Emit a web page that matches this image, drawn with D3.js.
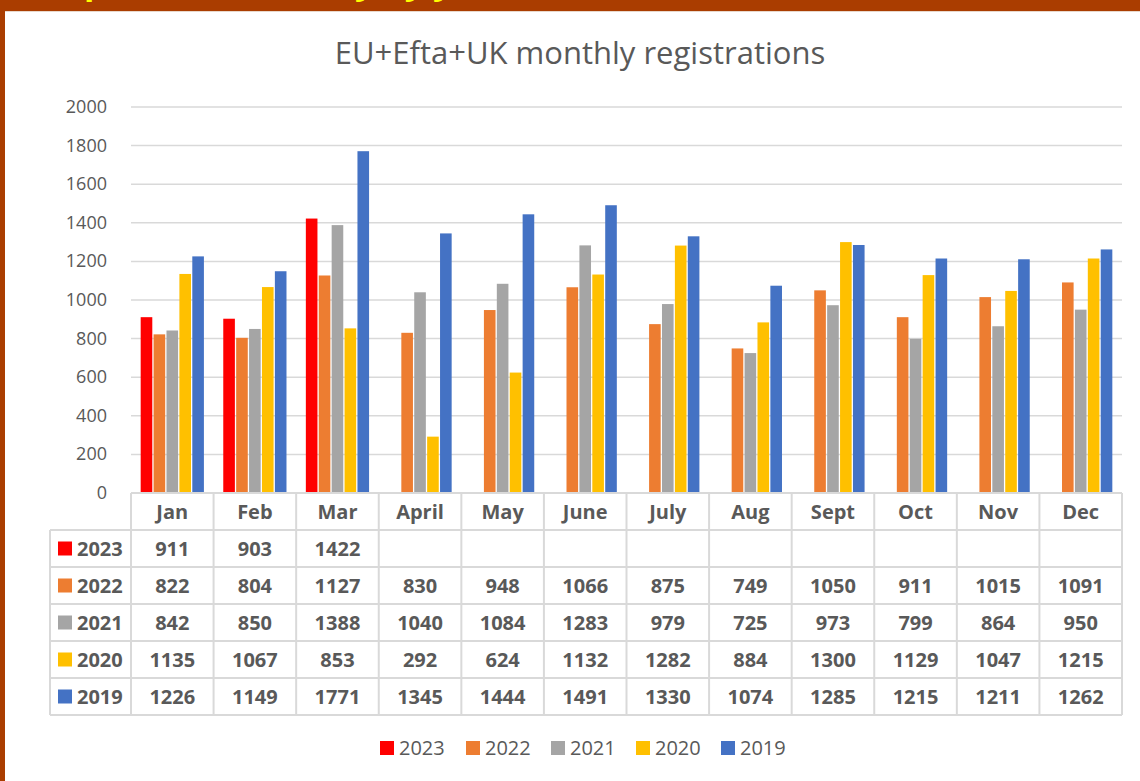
<!DOCTYPE html>
<html>
<head>
<meta charset="utf-8">
<script src="https://cdn.jsdelivr.net/npm/d3@7"></script>
<style>
  body { margin: 0; background: #aa3d00; overflow: hidden; }
  text { font-family: "Open Sans", "Noto Sans", sans-serif; fill: #595959; }
</style>
</head>
<body>
<script>
// chart data
const months = ['Jan', 'Feb', 'Mar', 'April', 'May', 'June', 'July', 'Aug', 'Sept', 'Oct', 'Nov', 'Dec'];
const years = ['2023', '2022', '2021', '2020', '2019'];
const colors = ['#ff0000', '#ed7d31', '#a5a5a5', '#ffc000', '#4472c4'];
const v2023 = [911, 903, 1422, null, null, null, null, null, null, null, null, null];
const v2022 = [822, 804, 1127, 830, 948, 1066, 875, 749, 1050, 911, 1015, 1091];
const v2021 = [842, 850, 1388, 1040, 1084, 1283, 979, 725, 973, 799, 864, 950];
const v2020 = [1135, 1067, 853, 292, 624, 1132, 1282, 884, 1300, 1129, 1047, 1215];
const v2019 = [1226, 1149, 1771, 1345, 1444, 1491, 1330, 1074, 1285, 1215, 1211, 1262];
const yTicks = [0, 200, 400, 600, 800, 1000, 1200, 1400, 1600, 1800, 2000];

const series = [v2023, v2022, v2021, v2020, v2019];

var width = 1140, height = 781;

var svg = d3.select('body').append('svg')
  .attr('width', width)
  .attr('height', height);

// heading cut off by the top edge (only descenders show)
svg.append('text')
  .attr('x', 8).attr('y', -6)
  .style('font-size', '34px').style('font-weight', 'bold')
  .style('fill', '#ffff00')
  .text('Comparison: monthly by year');

// brown frame and white panel
svg.append('rect').attr('x', 5).attr('y', 11).attr('width', width - 5).attr('height', height - 11)
  .attr('fill', '#ffffff');
svg.append('line').attr('x1', 5).attr('x2', width).attr('y1', 11.5).attr('y2', 11.5)
  .attr('stroke', '#e8d8cc').attr('stroke-width', 1);

// title
svg.append('text')
  .attr('x', 580).attr('y', 64)
  .attr('text-anchor', 'middle')
  .style('font-size', '31px')
  .text('EU+Efta+UK monthly registrations');

var plotLeft = 131, plotRight = 1122, plotTop = 107, plotBottom = 493;

var x = d3.scaleBand().domain(months).range([plotLeft, plotRight]);
var xs = d3.scaleBand().domain(years).range([0, x.bandwidth()])
  .paddingInner(0.1).paddingOuter(0.75);
var y = d3.scaleLinear().domain([0, 2000]).range([plotBottom, plotTop]);

// gridlines
svg.append('g').selectAll('line')
  .data(yTicks)
  .join('line')
  .attr('x1', plotLeft).attr('x2', plotRight)
  .attr('y1', d => y(d)).attr('y2', d => y(d))
  .attr('stroke', '#d9d9d9').attr('stroke-width', 1.5);

// y labels
svg.append('g').selectAll('text')
  .data(yTicks)
  .join('text')
  .attr('x', 107).attr('y', d => y(d) + 6)
  .attr('text-anchor', 'end')
  .style('font-size', '18px')
  .text(d => d);

// bars
years.forEach((yr, i) => {
  svg.append('g').selectAll('rect')
    .data(series[i].map((v, j) => ({ m: months[j], v: v })).filter(d => d.v != null))
    .join('rect')
    .attr('x', d => x(d.m) + xs(yr))
    .attr('width', xs.bandwidth())
    .attr('y', d => y(d.v))
    .attr('height', d => plotBottom - y(d.v))
    .attr('fill', colors[i]);
});

// data table
var rowH = 37, headTop = plotBottom, tableLeft = 50;
var rowY = i => headTop + rowH * (i + 1); // top of row i
var tableBottom = rowY(years.length);
var grid = svg.append('g').attr('stroke', '#d9d9d9').attr('stroke-width', 2);

grid.append('line').attr('x1', plotLeft).attr('x2', plotRight).attr('y1', headTop).attr('y2', headTop);
d3.range(years.length + 1).forEach(i => {
  grid.append('line').attr('x1', tableLeft).attr('x2', plotRight)
    .attr('y1', rowY(i)).attr('y2', rowY(i));
});
grid.append('line').attr('x1', tableLeft).attr('x2', tableLeft).attr('y1', rowY(0)).attr('y2', tableBottom);
months.forEach(m => {
  grid.append('line').attr('x1', x(m)).attr('x2', x(m)).attr('y1', headTop).attr('y2', tableBottom);
});
grid.append('line').attr('x1', plotRight).attr('x2', plotRight).attr('y1', headTop).attr('y2', tableBottom);

// month headers
svg.append('g').selectAll('text')
  .data(months)
  .join('text')
  .attr('x', d => x(d) + x.bandwidth() / 2)
  .attr('y', headTop + rowH / 2 + 7)
  .attr('text-anchor', 'middle')
  .style('font-size', '20px').style('font-weight', 'bold')
  .text(d => d);

years.forEach((yr, i) => {
  var cy = rowY(i) + rowH / 2;
  svg.append('rect').attr('x', 58).attr('y', cy - 7).attr('width', 14).attr('height', 14)
    .attr('fill', colors[i]);
  svg.append('text').attr('x', 77).attr('y', cy + 7)
    .style('font-size', '20px').style('font-weight', 'bold')
    .text(yr);
  svg.append('g').selectAll('text')
    .data(series[i].map((v, j) => ({ m: months[j], v: v })).filter(d => d.v != null))
    .join('text')
    .attr('x', d => x(d.m) + x.bandwidth() / 2)
    .attr('y', cy + 7)
    .attr('text-anchor', 'middle')
    .style('font-size', '20px').style('font-weight', 'bold')
    .text(d => d.v);
});

// legend
var legendX = [380, 466, 551, 636, 721];
years.forEach((yr, i) => {
  var g = svg.append('g').attr('transform', 'translate(' + legendX[i] + ',748)');
  g.append('rect').attr('x', 0).attr('y', -7).attr('width', 14).attr('height', 14).attr('fill', colors[i]);
  g.append('text').attr('x', 19).attr('y', 7).style('font-size', '20px').text(yr);
});
</script>
</body>
</html>
